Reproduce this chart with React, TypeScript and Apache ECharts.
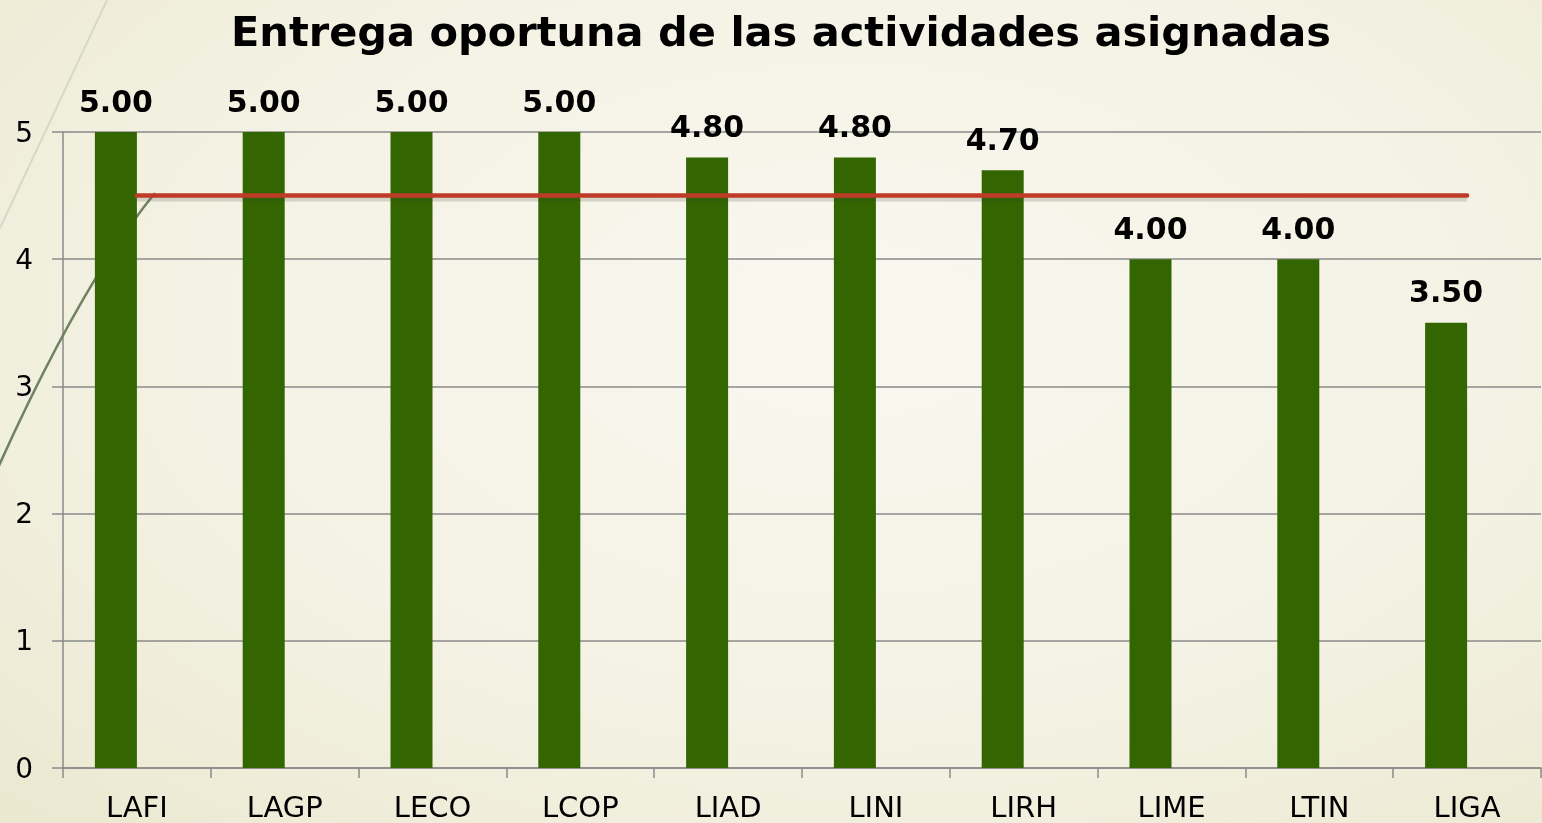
import React, { useEffect, useRef } from "react";
import * as echarts from "echarts";

const categories = ["LAFI", "LAGP", "LECO", "LCOP", "LIAD", "LINI", "LIRH", "LIME", "LTIN", "LIGA"];
const values = [5.0, 5.0, 5.0, 5.0, 4.8, 4.8, 4.7, 4.0, 4.0, 3.5];
const targetValues = [4.5, 4.5, 4.5, 4.5, 4.5, 4.5, 4.5, 4.5, 4.5, 4.5];
const spacerValues = ["-", "-", "-", "-", "-", "-", "-", "-", "-", "-"];
const titleText = "Entrega oportuna de las actividades asignadas";

const FONT = "'DejaVu Sans', sans-serif";

export default function App() {
  const ref = useRef<HTMLDivElement>(null);
  useEffect(() => {
    if (!ref.current) return;
    const chart = echarts.init(ref.current, null, { renderer: "svg" });
    chart.setOption({
      animation: false,
      backgroundColor: "transparent",
      title: {
        text: titleText,
        left: 776,
        top: 5,
        textAlign: "center",
        textStyle: { fontFamily: FONT, fontSize: 41.5, fontWeight: "bold", color: "#000" },
      },
      grid: [
        { left: 63, right: 1, top: 132, bottom: 55, containLabel: false },
        { left: 63, right: 1, top: 135, bottom: 52, containLabel: false },
      ],
      xAxis: [
        {
          type: "category",
          data: categories,
          gridIndex: 0,
          axisLine: { lineStyle: { color: "#8a8a8a", width: 1.5 } },
          axisTick: { show: true, length: 10, lineStyle: { color: "#8a8a8a", width: 1.5 } },
          axisLabel: { fontFamily: FONT, fontSize: 29, color: "#000", margin: 24 },
        },
        { type: "category", data: categories, gridIndex: 1, show: false },
      ],
      yAxis: [
        {
          type: "value",
          gridIndex: 0,
          min: 0,
          max: 5,
          interval: 1,
          axisLine: { show: true, lineStyle: { color: "#8a8a8a", width: 1.5 } },
          axisTick: { show: true, length: 11, lineStyle: { color: "#8a8a8a", width: 1.5 } },
          splitLine: { show: true, lineStyle: { color: "#8a8a8a", width: 1.5 } },
          axisLabel: { fontFamily: FONT, fontSize: 28, color: "#000", margin: 30 },
        },
        { type: "value", gridIndex: 1, min: 0, max: 5, interval: 1, show: false, splitLine: { show: false } },
      ],
      graphic: [
        {
          type: "line",
          z: 1,
          shape: { x1: 107, y1: 0, x2: 0, y2: 228 },
          style: { stroke: "#d4d9c8", lineWidth: 2 },
        },
        {
          type: "bezierCurve",
          z: 1,
          shape: { x1: 155, y1: 193, cpx1: 80.8, cpy1: 283.5, x2: -3, y2: 470 },
          style: { stroke: "#6f8262", lineWidth: 2.5, fill: null },
        },
      ],
      series: [
        {
          type: "bar",
          data: values,
          barWidth: 42,
          barGap: "0%",
          z: 3,
          itemStyle: { color: "#336600" },
          label: {
            show: true,
            position: "top",
            distance: 16,
            formatter: (p: any) => Number(p.value).toFixed(2),
            fontFamily: FONT,
            fontSize: 30,
            fontWeight: "bold",
            color: "#000",
          },
        },
        {
          type: "bar",
          data: spacerValues,
          barWidth: 42,
          barGap: "0%",
          itemStyle: { color: "transparent" },
        },
        {
          type: "line",
          data: targetValues,
          xAxisIndex: 1,
          yAxisIndex: 1,
          symbol: "none",
          showSymbol: false,
          silent: true,
          z: 4,
          lineStyle: { color: "rgba(60,60,40,0.18)", width: 6 },
        },
        {
          type: "line",
          data: targetValues,
          symbol: "none",
          showSymbol: false,
          z: 5,
          lineStyle: { color: "#bf3b28", width: 4.5, cap: "round" },
        },
      ],
    });
    return () => chart.dispose();
  }, []);
  return (
    <div
      style={{
        position: "fixed",
        left: 0,
        top: 0,
        width: 1542,
        height: 823,
        background: "radial-gradient(ellipse at 55% 40%, #f9f8f0 0%, #f4f2e4 55%, #ebe8d0 100%)",
      }}
    >
      <div ref={ref} style={{ width: 1542, height: 823 }} />
    </div>
  );
}
